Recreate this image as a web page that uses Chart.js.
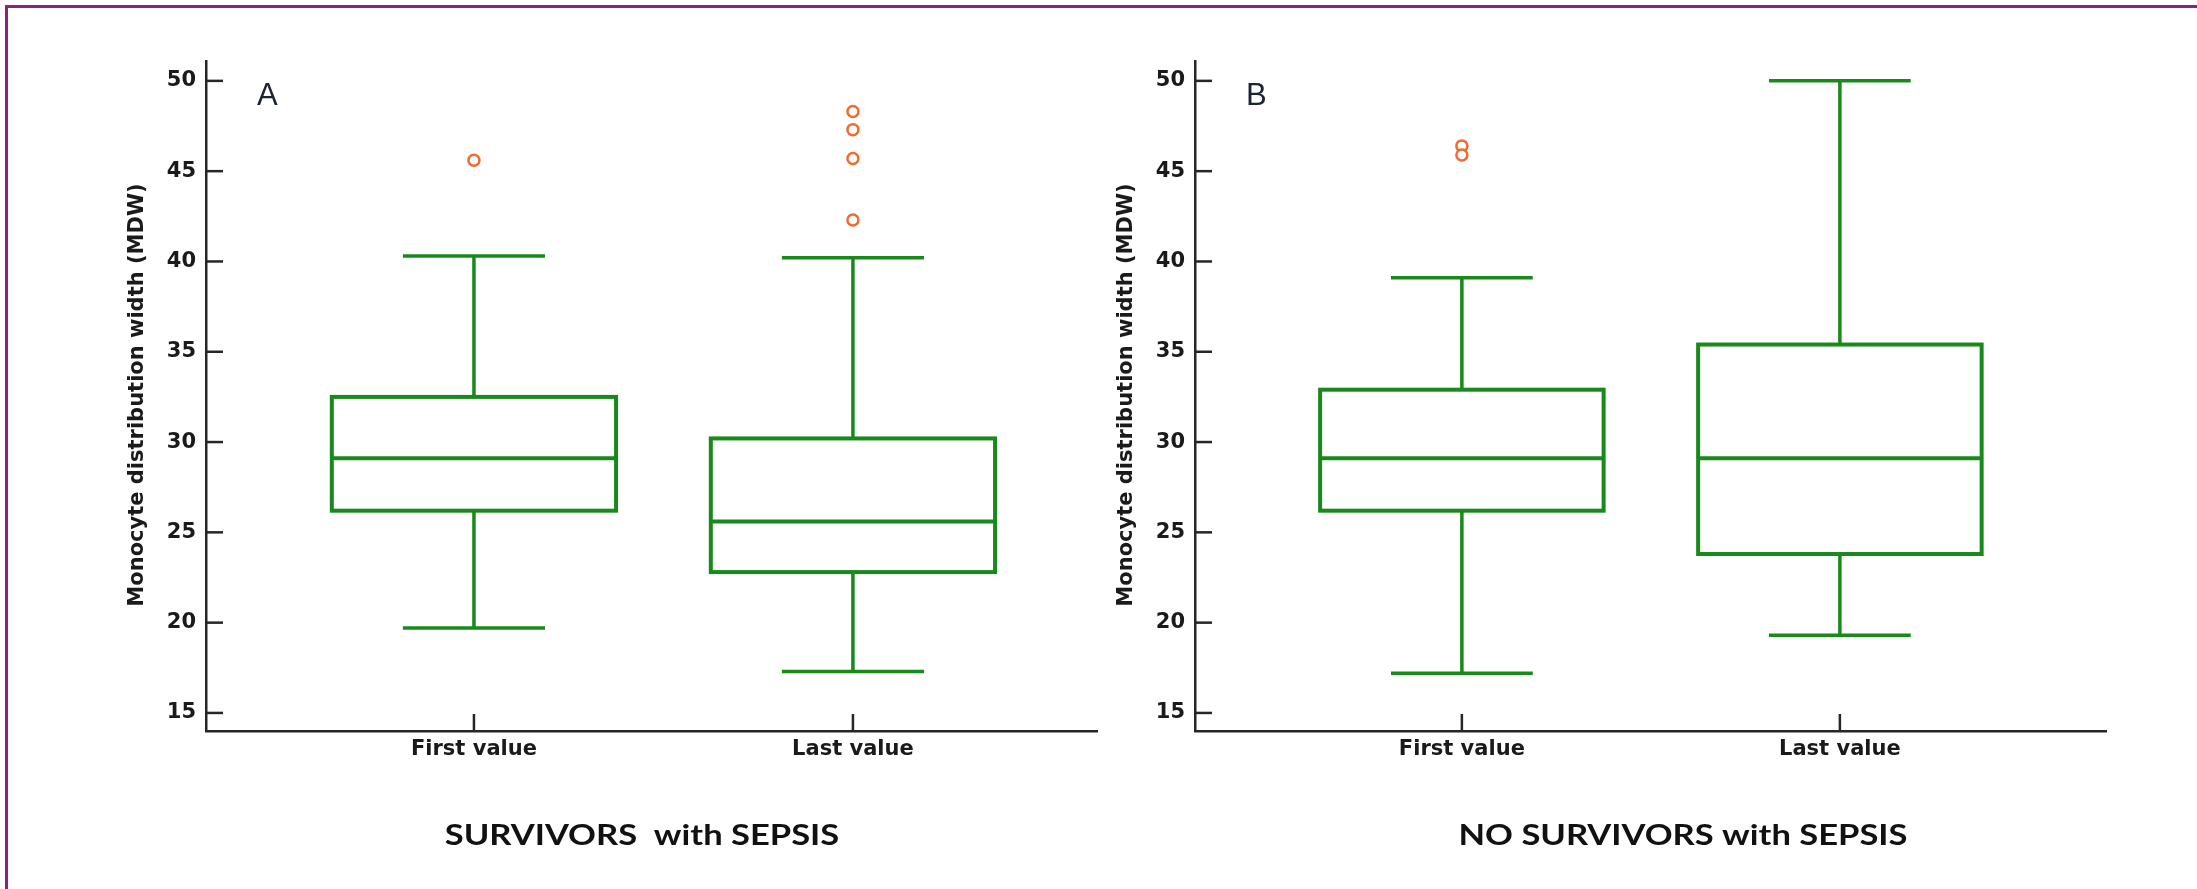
<!DOCTYPE html>
<html>
<head>
<meta charset="utf-8">
<script src="https://cdn.jsdelivr.net/npm/chart.js@4.4.1/dist/chart.umd.min.js"></script>
<style>
  html, body { margin: 0; padding: 0; background: #fff; }
  body { width: 2197px; height: 889px; position: relative; overflow: hidden; }
  .frame { position: absolute; left: 5px; top: 5px; width: 2300px; height: 1000px;
           border-top: 3px solid #8e2180; border-left: 3px solid #8e2180; }
  canvas { position: absolute; top: 0; }
  #chartA { left: 0; }
  #chartB { left: 1090px; }
</style>
</head>
<body>
<div class="frame"></div>
<canvas id="chartA" width="1140" height="889"></canvas>
<canvas id="chartB" width="1107" height="889"></canvas>
<script>
// ─── data ────────────────────────────────────────────────────────────────────
const categories = ['First value', 'Last value'];
const yTicks     = [15, 20, 25, 30, 35, 40, 45, 50];

// A — survivors with sepsis
const survMin  = [19.7, 17.3];
const survQ1   = [26.2, 22.8];
const survMed  = [29.1, 25.6];
const survQ3   = [32.5, 30.2];
const survMax  = [40.3, 40.2];
const survOutFirst = [45.6];
const survOutLast  = [48.3, 47.3, 45.7, 42.3];

// B — no survivors with sepsis
const nsMin  = [17.2, 19.3];
const nsQ1   = [26.2, 23.8];
const nsMed  = [29.1, 29.1];
const nsQ3   = [32.9, 35.4];
const nsMax  = [39.1, 50.0];
const nsOutFirst = [46.4, 45.9];
const nsOutLast  = [];

// ─── styling ────────────────────────────────────────────────────────────────
const GREEN  = '#178a19';
const ORANGE = '#f36a2e';
const AXIS   = '#262626';
const TICK_FONT = { family: 'DejaVu Sans', size: 21, weight: 'bold' };

// box + whiskers, drawn through the chart's own scales
const boxPlugin = {
  id: 'boxWhisker',
  beforeDatasetsDraw(chart, args, o) {
    const { ctx, scales: { x, y } } = chart;
    const seg = (x0, y0, x1, y1) => { ctx.beginPath(); ctx.moveTo(x0, y0); ctx.lineTo(x1, y1); ctx.stroke(); };
    ctx.save();
    ctx.strokeStyle = o.color;
    ctx.lineCap = 'butt';
    o.min.forEach((lo, i) => {
      const c  = i + 1;
      const cx = x.getPixelForValue(c);
      const b0 = x.getPixelForValue(c - o.boxWidth / 2), b1 = x.getPixelForValue(c + o.boxWidth / 2);
      const k0 = x.getPixelForValue(c - o.capWidth / 2), k1 = x.getPixelForValue(c + o.capWidth / 2);
      const pMin = y.getPixelForValue(lo),        pMax = y.getPixelForValue(o.max[i]);
      const pQ1  = y.getPixelForValue(o.q1[i]),   pQ3  = y.getPixelForValue(o.q3[i]);
      const pMed = y.getPixelForValue(o.med[i]);
      ctx.lineWidth = o.whiskerWidth;
      seg(cx, pMax, cx, pQ3);
      seg(cx, pQ1, cx, pMin);
      seg(k0, pMax, k1, pMax);
      seg(k0, pMin, k1, pMin);
      ctx.lineWidth = o.boxLineWidth;
      ctx.strokeRect(b0, pQ3, b1 - b0, pQ1 - pQ3);
      seg(b0, pMed, b1, pMed);
    });
    ctx.restore();
  }
};

// inward tick marks + panel letter + axis title + caption
const decorPlugin = {
  id: 'decor',
  afterDraw(chart, args, o) {
    const { ctx, chartArea: a, scales: { x, y } } = chart;
    ctx.save();
    ctx.strokeStyle = AXIS;
    ctx.lineWidth = 2.5;
    y.ticks.forEach(t => {
      const py = y.getPixelForValue(t.value);
      ctx.beginPath(); ctx.moveTo(a.left, py); ctx.lineTo(a.left + 17, py); ctx.stroke();
    });
    x.ticks.forEach(t => {
      const px = x.getPixelForValue(t.value);
      ctx.beginPath(); ctx.moveTo(px, a.bottom); ctx.lineTo(px, a.bottom - 17); ctx.stroke();
    });

    ctx.fillStyle = '#1c2333';
    ctx.font = '31px "Liberation Sans"';
    ctx.textAlign = 'left';
    ctx.textBaseline = 'alphabetic';
    ctx.fillText(o.letter, a.left + 51, 105);

    ctx.fillStyle = '#1a1a1a';
    ctx.font = 'bold 21px "DejaVu Sans"';
    ctx.textAlign = 'center';
    ctx.textBaseline = 'middle';
    ctx.translate(a.left - 68, (a.top + a.bottom) / 2 - 1);
    ctx.rotate(-Math.PI / 2);
    ctx.fillText('Monocyte distribution width (MDW)', 0, 0);
    ctx.setTransform(1, 0, 0, 1, 0, 0);

    // caption: the source figure is stretched sideways, so widen the glyphs a bit
    ctx.fillStyle = '#111';
    ctx.font = 'bold 29px Lato';
    ctx.translate(o.captionX, 836);
    ctx.scale(1.19, 1);
    ctx.fillText(o.caption, 0, 0);
    ctx.restore();
  }
};

function outlierPoints(first, last) {
  return first.map(v => ({ x: 1, y: v })).concat(last.map(v => ({ x: 2, y: v })));
}

function makePanel(id, st, cfg) {
  return new Chart(document.getElementById(id), {
    type: 'scatter',
    data: { datasets: [{
      data: outlierPoints(st.outFirst, st.outLast),
      pointRadius: 5.5, pointHoverRadius: 5.5, pointBorderWidth: 2.5,
      pointBorderColor: ORANGE, pointBackgroundColor: '#fff',
    }] },
    options: {
      responsive: false, animation: false, devicePixelRatio: 1,
      layout: { padding: cfg.padding },
      plugins: {
        legend: { display: false }, tooltip: { enabled: false },
        boxWhisker: { color: GREEN, boxWidth: 0.75, capWidth: 0.375, boxLineWidth: 4, whiskerWidth: 3.5,
                      min: st.min, q1: st.q1, med: st.med, q3: st.q3, max: st.max },
        decor: { letter: cfg.letter, caption: cfg.caption, captionX: cfg.captionX },
      },
      scales: {
        x: {
          type: 'linear', min: cfg.xMin, max: cfg.xMax,
          grid: { display: false, drawTicks: false },
          border: { display: true, color: AXIS, width: 2.5 },
          afterBuildTicks: s => { s.ticks = categories.map((_, i) => ({ value: i + 1 })); },
          afterFit: s => { s.height = 40; },
          ticks: { color: '#1a1a1a', font: TICK_FONT, padding: 6, maxRotation: 0,
                   callback: v => categories[v - 1] ?? '' },
        },
        y: {
          min: 14, max: 51.1,
          grid: { display: false, drawTicks: false },
          border: { display: true, color: AXIS, width: 2.5 },
          afterBuildTicks: s => { s.ticks = yTicks.map(v => ({ value: v })); },
          afterFit: s => { s.width = 100; },
          ticks: { color: '#1a1a1a', font: TICK_FONT, padding: 10 },
        },
      },
    },
    plugins: [boxPlugin, decorPlugin],
  });
}

makePanel('chartA',
  { min: survMin, q1: survQ1, med: survMed, q3: survQ3, max: survMax, outFirst: survOutFirst, outLast: survOutLast },
  { letter: 'A', caption: 'SURVIVORS  with SEPSIS', captionX: 642, xMin: 0.293, xMax: 2.644,
    padding: { left: 106, right: 43, top: 61, bottom: 118 } });

makePanel('chartB',
  { min: nsMin, q1: nsQ1, med: nsMed, q3: nsQ3, max: nsMax, outFirst: nsOutFirst, outLast: nsOutLast },
  { letter: 'B', caption: 'NO SURVIVORS with SEPSIS', captionX: 593, xMin: 0.294, xMax: 2.704,
    padding: { left: 5, right: 91, top: 61, bottom: 118 } });
</script>
</body>
</html>
